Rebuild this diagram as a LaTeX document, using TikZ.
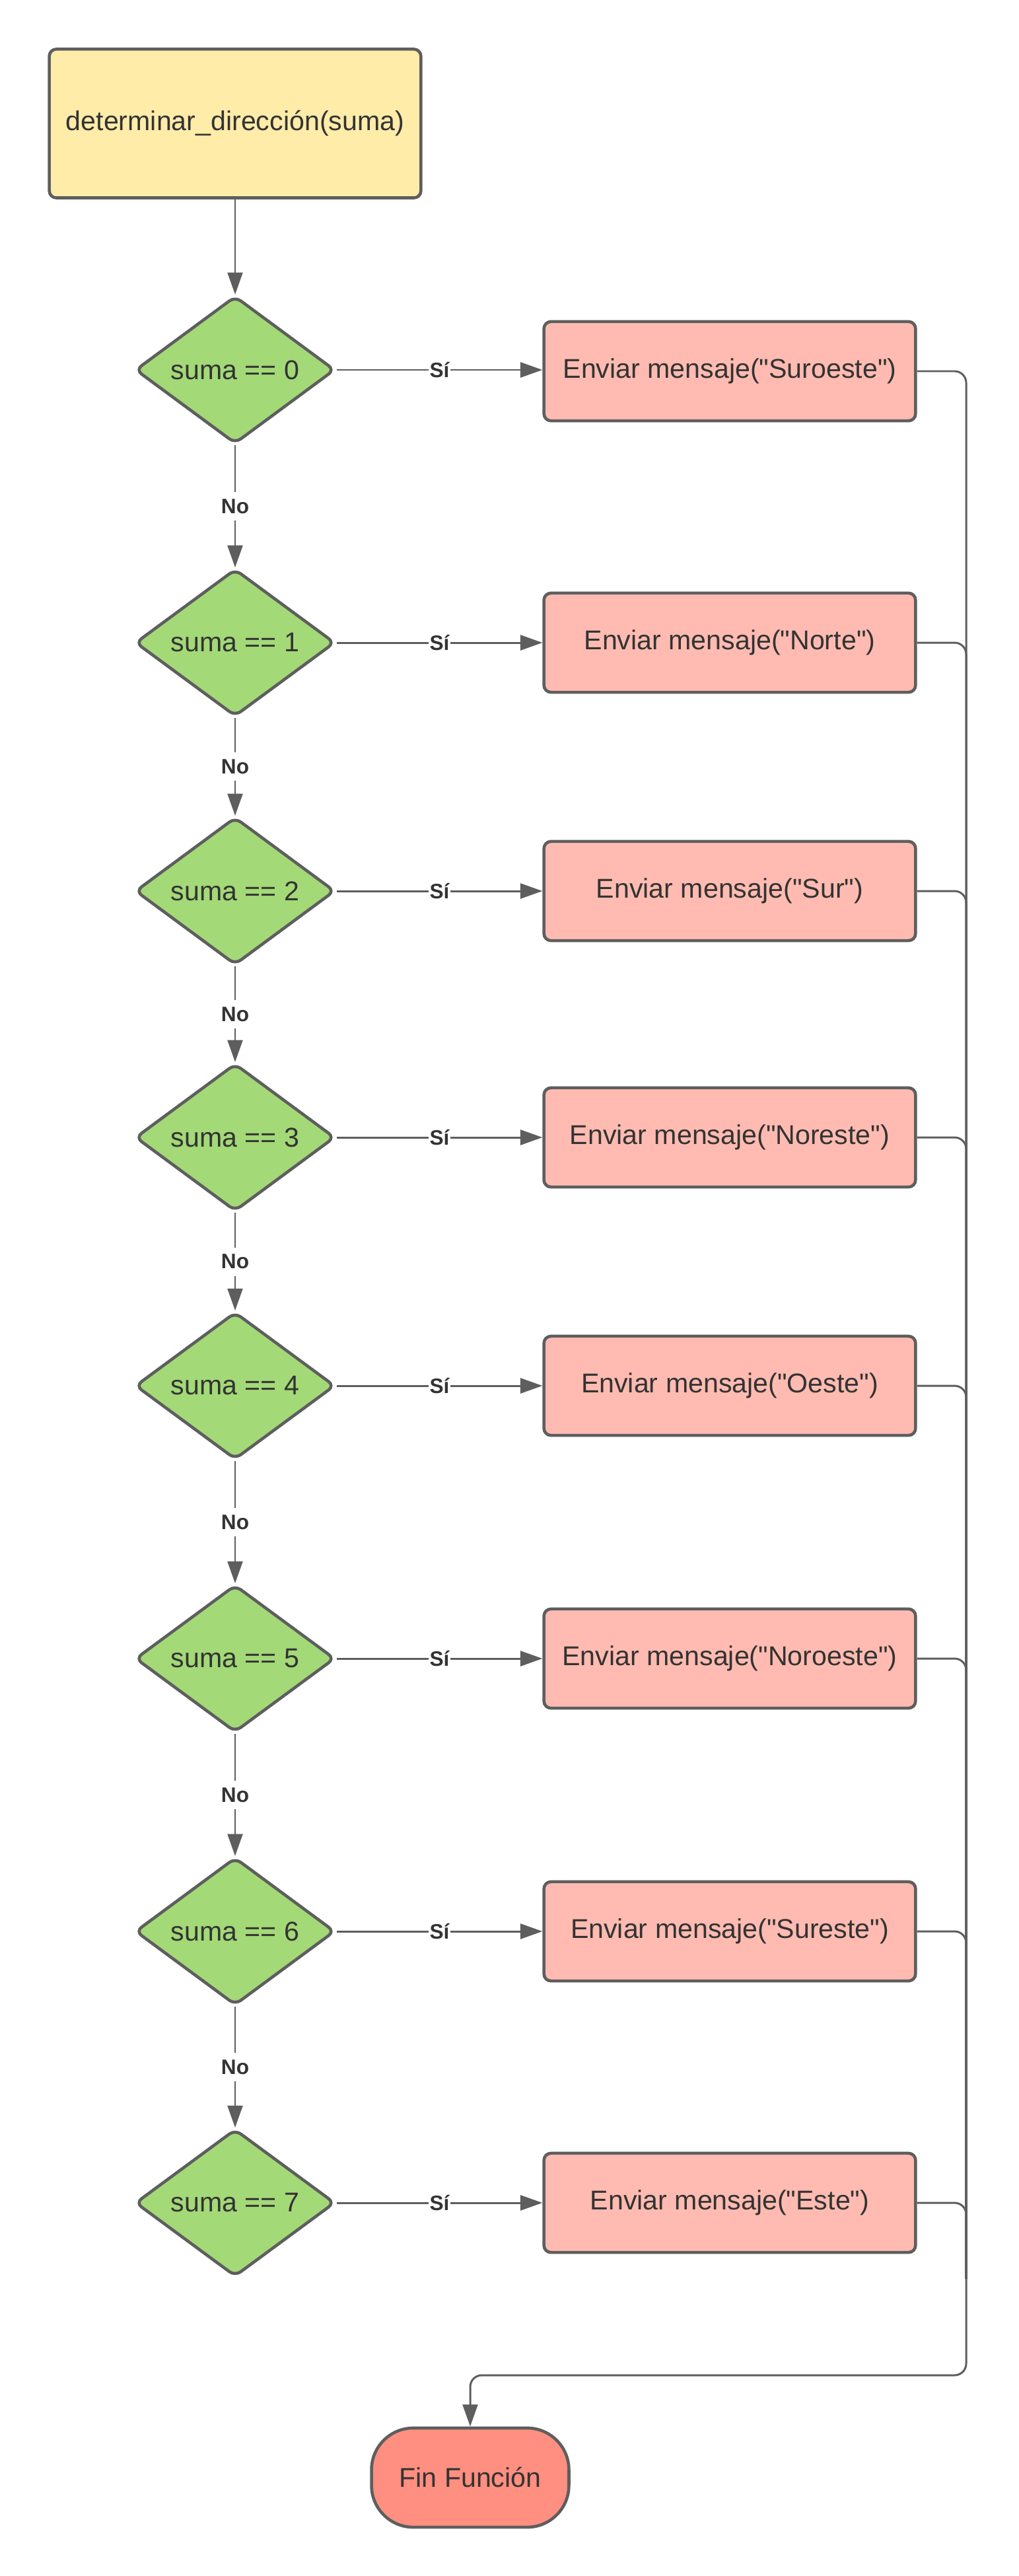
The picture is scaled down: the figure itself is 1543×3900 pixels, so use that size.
\documentclass[tikz,border=0pt]{standalone}
\usepackage{fontspec}
\setmainfont{Liberation Sans}[Ligatures=TeXOff]
\usetikzlibrary{shapes.geometric,arrows.meta}

\definecolor{edgegray}{HTML}{5E5E5E}
\definecolor{txtgray}{HTML}{333333}
\definecolor{startyellow}{HTML}{FFECA9}
\definecolor{decgreen}{HTML}{A3D977}
\definecolor{msgpink}{HTML}{FFBBB1}
\definecolor{endred}{HTML}{FF8F80}

\begin{document}
\begin{tikzpicture}[x=0.01cm,y=-0.01cm,
  every node/.style={text=txtgray, font=\fontsize{11.7}{14}\selectfont},
  startbox/.style={draw=edgegray, line width=1.3pt, fill=startyellow, rounded corners=3pt,
    minimum width=160pt, minimum height=64pt},
  decision/.style={diamond, draw=edgegray, line width=1.3pt, fill=decgreen, rounded corners=3pt,
    inner sep=0pt, minimum width=86pt, minimum height=62pt},
  msgbox/.style={draw=edgegray, line width=1.3pt, fill=msgpink, rounded corners=3pt,
    minimum width=160pt, minimum height=42.7pt},
  endbox/.style={draw=edgegray, line width=1.3pt, fill=endred, rounded corners=18pt,
    minimum width=85pt, minimum height=42.7pt},
  lbl/.style={fill=white, font=\bfseries\fontsize{9}{10}\selectfont, inner xsep=0.5pt, inner ysep=3pt},
  flow/.style={draw=edgegray, line width=0.85pt, -{Triangle[length=9.5pt,width=6.5pt]}},
  backline/.style={draw=edgegray, line width=0.85pt, rounded corners=5pt}]

% Page
\fill[white] (0,0) rectangle (1543,3900);
\useasboundingbox (0,0) rectangle (1543,3900);

% Start
\node[startbox] (start) at (356,187) {determinar\_dirección(suma)};

% Decisions
\node[decision] (d0) at (356,560) {suma == 0};
\node[decision] (d1) at (356,973) {suma == 1};
\node[decision] (d2) at (356,1349) {suma == 2};
\node[decision] (d3) at (356,1722) {suma == 3};
\node[decision] (d4) at (356,2098) {suma == 4};
\node[decision] (d5) at (356,2511) {suma == 5};
\node[decision] (d6) at (356,2924) {suma == 6};
\node[decision] (d7) at (356,3335) {suma == 7};

% Messages
\node[msgbox] (b0) at (1105,562) {Enviar mensaje("Suroeste")};
\node[msgbox] (b1) at (1105,973) {Enviar mensaje("Norte")};
\node[msgbox] (b2) at (1105,1349) {Enviar mensaje("Sur")};
\node[msgbox] (b3) at (1105,1722) {Enviar mensaje("Noreste")};
\node[msgbox] (b4) at (1105,2098) {Enviar mensaje("Oeste")};
\node[msgbox] (b5) at (1105,2511) {Enviar mensaje("Noroeste")};
\node[msgbox] (b6) at (1105,2924) {Enviar mensaje("Sureste")};
\node[msgbox] (b7) at (1105,3335) {Enviar mensaje("Este")};

% End
\node[endbox] (fin) at (712,3751) {Fin Función};
\coordinate (rail) at (1463,3450);
\coordinate (turn) at (1463,3596);

% No branch
\draw[flow] (start) -- (d0);
\draw[flow] (d0) -- node[lbl] {No} (d1);
\draw[flow] (d1) -- node[lbl] {No} (d2);
\draw[flow] (d2) -- node[lbl] {No} (d3);
\draw[flow] (d3) -- node[lbl] {No} (d4);
\draw[flow] (d4) -- node[lbl] {No} (d5);
\draw[flow] (d5) -- node[lbl] {No} (d6);
\draw[flow] (d6) -- node[lbl] {No} (d7);

% Sí branch
\draw[flow] (d0) -- node[lbl] {Sí} (b0.west |- d0);
\draw[flow] (d1) -- node[lbl] {Sí} (b1);
\draw[flow] (d2) -- node[lbl] {Sí} (b2);
\draw[flow] (d3) -- node[lbl] {Sí} (b3);
\draw[flow] (d4) -- node[lbl] {Sí} (b4);
\draw[flow] (d5) -- node[lbl] {Sí} (b5);
\draw[flow] (d6) -- node[lbl] {Sí} (b6);
\draw[flow] (d7) -- node[lbl] {Sí} (b7);

% Back to the end
\draw[backline] (b1.east) -| (rail);
\draw[backline] (b2.east) -| (rail);
\draw[backline] (b3.east) -| (rail);
\draw[backline] (b4.east) -| (rail);
\draw[backline] (b5.east) -| (rail);
\draw[backline] (b6.east) -| (rail);
\draw[backline] (b7.east) -| (rail);
\draw[backline, flow] (b0.east) -| (turn) -| (fin);

\end{tikzpicture}
\end{document}
